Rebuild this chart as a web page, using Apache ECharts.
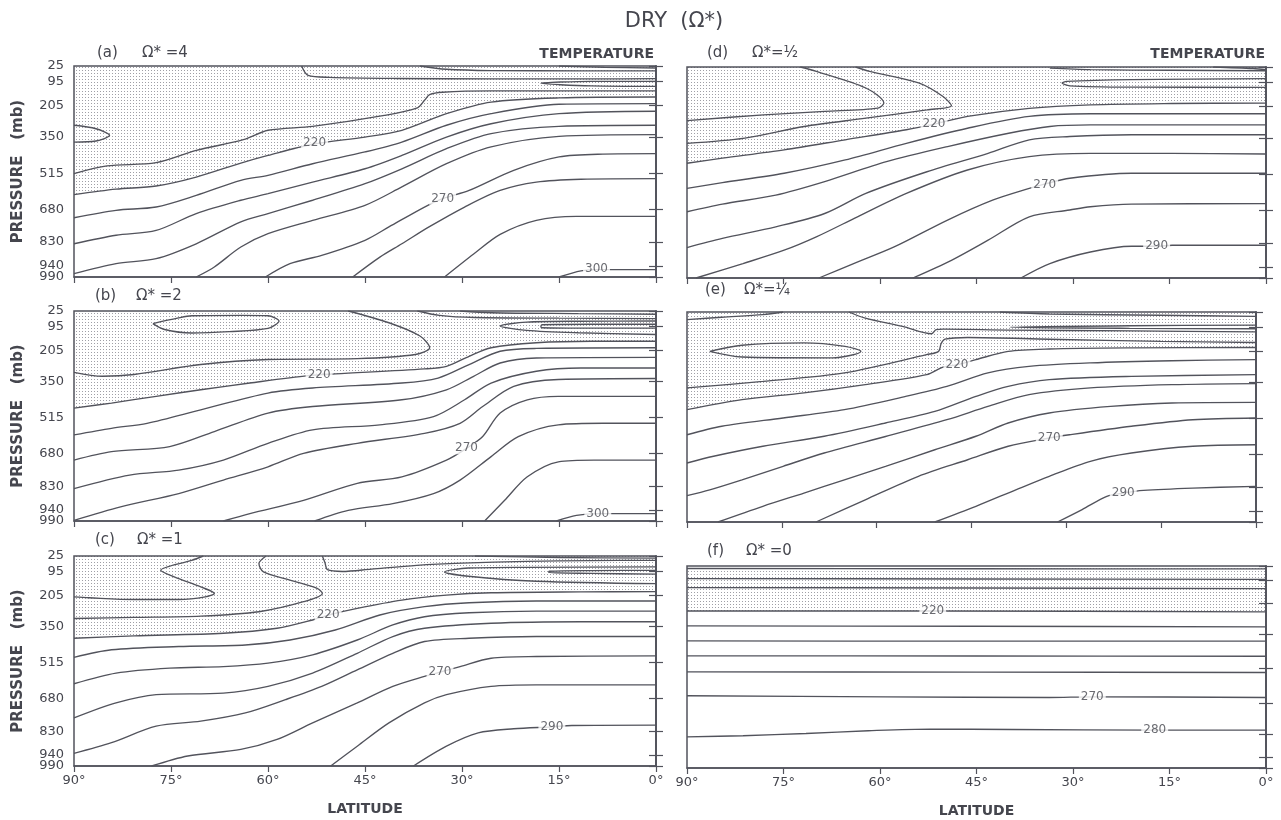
<!DOCTYPE html>
<html><head><meta charset="utf-8">
<script src="https://cdn.jsdelivr.net/npm/echarts@6/dist/echarts.min.js"></script>
<style>html,body{margin:0;padding:0;background:#fff}#chart{width:1281px;height:820px}</style>
</head><body><div id="chart"></div>
<script>
// ---------- data ----------
const pressureTicks = [25, 95, 205, 350, 515, 680, 830, 940, 990];
const panelTags = ['(a)', '(b)', '(c)', '(d)', '(e)', '(f)'];
const omegaTags = ['Ω* =4', 'Ω* =2', 'Ω* =1', 'Ω*=½', 'Ω*=¼', 'Ω* =0'];

// contour lines: [level, [[latitude, pressure], ...]]
const contoursA = [
  [300, [[15,990],[11.6,962],[9,956],[0,956]]],
  [290, [[32.7,990],[28.2,885],[24.1,795],[18.5,731],[12.3,713],[0,713]]],
  [280, [[46.9,990],[42.7,899],[39.3,838],[35.1,761],[29.6,670],[24.1,594],[18.5,556],[11.6,543],[0,540]]],
  [270, [[60.4,990],[56.6,929],[51.7,891],[45,822],[41.3,761],[35.8,670],[33,632],[28.9,594],[22,502],[15,441],[8.2,428],[0,426]]],
  [260, [[71.1,990],[68.3,944],[64.2,853],[60,792],[53.1,731],[45,662],[39.3,578],[32.4,472],[25.5,395],[15,347],[0,339]]],
  [250, [[90,975],[83.5,929],[77.3,906],[71.1,838],[64.2,738],[60,700],[53.1,639],[45,563],[39.3,495],[32.4,403],[25.5,334],[15,301],[0,296]]],
  [240, [[90,838],[83.5,799],[77.3,777],[71.1,700],[64.2,639],[60,609],[53.1,556],[45,495],[39.3,434],[32.4,350],[25.5,289],[15,243],[0,232]]],
  [230, [[90,719],[83.5,685],[77.3,670],[71.1,617],[64.2,548],[60,525],[53.1,472],[45,418],[39.3,373],[32.4,296],[25.5,243],[15,200],[0,197]]],
  [220, [[90,613],[83.5,588],[77.3,574],[71.1,533],[64.2,469],[60,434],[53.1,383],[45,350],[39.3,319],[32.4,243],[25.5,190],[15,171],[0,167]]],
  [210, [[90,517],[84.9,482],[77.3,467],[71.1,411],[63.8,362],[60,319],[53.1,301],[42,251],[36.9,216],[35.8,182],[35,156],[33,145],[25.5,139],[11.6,139],[0,139]]],
  [210, [[90,296],[86.6,312],[84.5,342],[86.6,368],[90,373]]],
  [200, [[54.8,25],[53.8,68],[50.5,77],[40,82],[25,84],[10,84],[0,83]]],
  [200, [[0,95],[10,95],[17.8,104],[10,116],[0,118]]],
  [190, [[36.5,25],[32.4,40],[25.5,46],[11.6,47],[0,47]]],
  [190, [[15,25],[8,31],[0,34]]]
];
const labelsA = [[52.8,378,'220'],[33,632,'270'],[9.2,955,'300']];

const contoursB = [
  [300, [[15.4,990],[12.3,964],[9,956],[0,956]]],
  [290, [[26.5,990],[23.4,895],[19.9,787],[15.1,718],[9.6,710],[0,710]]],
  [280, [[52.8,990],[47.6,941],[40.7,910],[34.4,864],[30.3,802],[25.5,694],[21.3,602],[15.1,548],[8.2,541],[0,541]]],
  [270, [[66.9,990],[62.8,956],[54.5,895],[46.2,817],[39.3,787],[32.4,710],[29.3,656],[26.8,602],[24.1,494],[19.9,433],[15.1,417],[8.2,417],[0,417]]],
  [260, [[90,987],[82.8,925],[73.8,864],[66.9,802],[60,741],[54.5,679],[46.2,633],[35.8,587],[30.3,541],[26.8,464],[22,371],[15.1,340],[0,335]]],
  [250, [[90,841],[81.4,779],[73.8,756],[66.9,710],[60,633],[53.1,571],[42.7,548],[34.4,510],[29.6,433],[25.5,356],[18.5,302],[11.6,287],[0,287]]],
  [240, [[90,710],[84.2,671],[75.2,648],[68.3,579],[60,494],[53.1,464],[39.3,433],[32.4,387],[28.2,325],[24.1,264],[18.5,241],[0,238]]],
  [230, [[90,594],[84.2,564],[78.7,541],[70.4,479],[60,402],[53.1,379],[39.3,356],[33.7,333],[28.9,271],[24.1,210],[18.5,197],[0,194]]],
  [220, [[90,471],[84.2,448],[77.3,417],[70.4,387],[62.8,356],[53.8,322],[49.6,314],[35.8,291],[32.4,279],[28.9,233],[25.5,194],[18.5,171],[10,164],[0,164]]],
  [210, [[90,307],[85.6,325],[80.7,317],[70.4,271],[60,248],[46.2,244],[37.2,225],[35,194],[36.5,140],[41.3,79],[47.6,25]]],
  [200, [[77.8,83],[74,58],[71.8,47],[64,45],[60,47],[58.3,71],[60,105],[66,120],[71.8,126],[76,110],[77.8,83]]],
  [200, [[36.9,25],[33.5,45],[28,55],[15,58],[0,60]]],
  [200, [[0,71],[12,72],[20,76],[24.1,94],[20,114],[12,125],[0,133]]],
  [190, [[0,86],[10,86],[17.6,88],[17.8,96],[17.6,102],[10,104],[0,104]]],
  [190, [[30.3,25],[25.5,33],[12,37],[0,40]]]
];
const labelsB = [[52.1,317,'220'],[29.3,656,'270'],[9,956,'300']];

const contoursC = [
  [290, [[37.5,990],[32.4,899],[27.5,838],[22,819],[16.1,810],[13,804],[0,802]]],
  [280, [[50.3,990],[46.2,899],[41.3,792],[35.8,700],[32.4,662],[25.5,624],[18.5,617],[0,617]]],
  [270, [[78,990],[72.4,944],[64.2,914],[58.6,868],[53.1,792],[46.2,700],[40.7,624],[35.8,578],[33.4,559],[30.3,533],[25.5,495],[18.5,487],[0,484]]],
  [260, [[90,932],[84.2,883],[77.3,807],[70.4,784],[63.5,746],[57.3,685],[51.7,624],[46.2,548],[40.7,472],[35.8,418],[28.9,403],[18.5,395],[0,395]]],
  [250, [[90,769],[83.5,700],[77.3,662],[66.9,655],[60,624],[53.1,563],[46.2,472],[40.7,395],[35.8,357],[25.5,334],[11.6,327],[0,327]]],
  [240, [[90,612],[83.5,563],[75.2,540],[66.9,533],[60,517],[53.1,479],[46.2,411],[40.7,342],[35.8,304],[28.9,286],[18.5,278],[0,278]]],
  [230, [[90,491],[84.2,456],[73.8,441],[63.5,434],[56.6,411],[49.6,365],[42.7,296],[35.8,258],[28.9,240],[18.5,232],[0,232]]],
  [220, [[90,403],[80.7,392],[66.9,380],[58.6,357],[53.1,319],[50.6,296],[46.2,266],[39.3,228],[32.4,205],[25.5,194],[11.6,190],[0,189]]],
  [210, [[90,312],[80.7,307],[70.4,301],[61.4,281],[54.5,235],[51.6,197],[52.4,174],[56.6,136],[60.7,98],[61.4,60],[60.3,25]]],
  [210, [[70,25],[71.8,45],[76.6,91],[74.5,121],[70.4,167],[68.3,197],[69.7,213],[73.8,225],[80.7,225],[87.7,217],[90,213]]],
  [200, [[51.6,25],[51.2,55],[50.8,88],[48.5,96],[44,85],[37,68],[30,58],[20,50],[10,46],[0,45]]],
  [200, [[0,75],[20,77],[29,80],[32.7,98],[29,118],[18.5,141],[0,152]]],
  [190, [[0,91],[10,92],[16.5,95],[16.6,101],[10,105],[0,108]]],
  [190, [[28,25],[15,32],[0,35]]]
];
const labelsC = [[50.7,296,'220'],[33.4,559,'270'],[16.1,810,'290']];

const contoursD = [
  [290, [[38.1,990],[33.6,924],[27.3,871],[20.9,845],[17,845],[14.6,840],[0,840]]],
  [280, [[54.9,990],[48.9,909],[43.2,817],[36.8,710],[30.5,679],[27.3,664],[20.9,652],[0,650]]],
  [270, [[69.5,990],[64.1,924],[57.8,848],[49.5,725],[42.5,634],[36.8,580],[34.6,562],[30.5,534],[20.9,511],[0,511]]],
  [260, [[88.6,990],[81.3,924],[74.9,863],[69.9,802],[63.5,710],[55.9,603],[46.4,496],[36.8,435],[27.3,420],[14.6,420],[0,423]]],
  [250, [[90,851],[84.5,809],[76.2,756],[68.6,695],[62.2,603],[52.7,504],[43.2,420],[36.8,358],[30.5,343],[20.9,335],[0,335]]],
  [240, [[90,687],[84.5,652],[76.2,611],[68.6,549],[59,458],[49.5,389],[40,328],[33.6,297],[27.3,290],[0,290]]],
  [230, [[90,580],[84.5,554],[74.9,511],[65.4,450],[55.9,374],[46.4,305],[36.8,251],[27.3,239],[0,239]]],
  [220, [[90,465],[84.5,442],[74.9,404],[65.4,358],[55.9,312],[51.4,285],[46.4,251],[36.8,214],[27.3,198],[14.6,192],[0,190]]],
  [210, [[90,270],[78.1,244],[68.6,228],[60.3,213],[59.4,190],[62.2,121],[69.9,45],[72.4,25]]],
  [210, [[90,374],[81,350],[71.8,297],[62.2,259],[52.7,221],[48.9,202],[50.2,160],[54,98],[61.6,45],[63.8,25]]],
  [200, [[0,78],[20.9,83],[31,91],[31.7,98],[30.5,111],[20.9,117],[0,118]]],
  [190, [[33.6,30],[27.3,37],[14.6,40],[0,42]]],
  [190, [[8.2,25],[2,32],[0,37]]]
];
const labelsD = [[51.6,285,'220'],[34.4,562,'270'],[17,845,'290']];

const contoursE = [
  [290, [[31.4,990],[27.5,933],[23.6,872],[21,857],[17.8,845],[10,834],[0,826]]],
  [280, [[50.8,990],[44.3,918],[37.9,841],[32.7,780],[26.2,711],[19.7,673],[10,642],[0,635]]],
  [270, [[69.6,990],[61.8,888],[53.4,780],[45.6,704],[39.2,642],[32.7,604],[29.5,589],[19.7,550],[10,520],[0,512]]],
  [260, [[85.1,990],[78,918],[71.5,857],[65.1,796],[58.6,734],[50.8,658],[44.3,596],[39.2,535],[32.7,489],[23,459],[13.3,443],[0,440]]],
  [250, [[90,869],[86.4,842],[81.3,796],[74.8,734],[68.3,673],[58.6,597],[48.9,520],[42.4,459],[35.9,405],[26.2,374],[13.3,359],[0,354]]],
  [240, [[90,719],[85.8,688],[78,642],[68.3,596],[58.6,535],[50.8,482],[44.3,413],[39.2,367],[32.7,336],[19.7,321],[0,313]]],
  [230, [[90,589],[84.5,550],[74.8,512],[65.1,474],[55.4,413],[48.9,367],[42.4,305],[35.9,275],[26.2,259],[13.3,249],[0,244]]],
  [220, [[90,474],[81.3,428],[71.5,397],[61.8,359],[52.1,313],[49.5,278],[47.2,267],[44.3,244],[39.2,206],[32.7,195],[19.7,190],[0,188]]],
  [210, [[90,374],[78,344],[65.1,305],[52.1,221],[50.2,206],[49.8,170],[49.2,150],[45.6,142],[32.7,150],[15,160],[0,165]]],
  [200, [[86.4,206],[81.3,178],[71.5,167],[65,183],[62.5,206],[67,236],[81.3,232],[86.4,206]]],
  [200, [[90,60],[84.5,49],[78,37],[74.8,25]]],
  [200, [[64.4,25],[61.8,53],[55.9,91],[51.3,125],[50.6,106],[49.5,104],[39.2,108],[19.7,112],[0,116]]],
  [190, [[0,85],[20,88],[38.9,95],[20,100],[0,102]]],
  [190, [[40.5,25],[32.7,34],[15,40],[0,45]]]
];
const labelsE = [[47.3,267,'220'],[32.7,604,'270'],[21,857,'290']];

const contoursF = [
  [280, [[90,841],[81.3,836],[71.5,825],[61.8,812],[52.2,804],[39.5,806],[17.3,809],[0,809]]],
  [270, [[90,645],[59.1,650],[33.7,653],[27,650],[0,653]]],
  [260, [[90,531],[45,532],[0,534]]],
  [250, [[90,454],[45,455],[0,456]]],
  [240, [[90,383],[45,384],[0,384]]],
  [230, [[90,311],[45,313],[0,316]]],
  [220, [[90,240],[51.8,240],[0,244]]],
  [210, [[90,128],[45,130],[0,133]]],
  [200, [[90,85],[45,87],[0,89]]],
  [190, [[90,37],[45,38],[0,39]]]
];
const labelsF = [[51.8,240,'220'],[27,650,'270'],[17.3,809,'280']];

// ---------- layout & styles ----------
const FONT = '"DejaVu Sans", "Noto Sans", sans-serif';
const INK = '#52535c';
const TXT = '#45464e';
const panels = [
  {c: contoursA, l: labelsA, g: {left: 74, top: 66, width: 582, height: 211}, xl: false, yl: true},
  {c: contoursB, l: labelsB, g: {left: 74, top: 311, width: 582, height: 210}, xl: false, yl: true},
  {c: contoursC, l: labelsC, g: {left: 74, top: 556, width: 582, height: 210}, xl: true, yl: true},
  {c: contoursD, l: labelsD, g: {left: 687, top: 67, width: 579, height: 211}, xl: false, yl: false},
  {c: contoursE, l: labelsE, g: {left: 687, top: 312, width: 569, height: 210}, xl: false, yl: false},
  {c: contoursF, l: labelsF, g: {left: 687, top: 566, width: 579, height: 202}, xl: true, yl: false}
];
// the 940 label sits 14px above 990, so it is drawn by a second label-only axis
const mainLabelTicks = pressureTicks.filter(v => v !== 940);
const extraLabelTicks = pressureTicks.filter(v => v === 940);

function dotPattern() {
  const cv = document.createElement('canvas');
  cv.width = 3; cv.height = 3;
  const g = cv.getContext('2d');
  g.fillStyle = 'rgba(80,80,92,0.55)';
  g.fillRect(1, 1, 1, 1);
  return cv;
}
const dots = dotPattern();

const grids = [], xAxes = [], yAxes = [], series = [], graphics = [];
const axisLine = {show: true, lineStyle: {color: INK, width: 1.5}};
const yLabelStyle = {margin: 10, color: TXT, fontSize: 13, fontFamily: FONT,
                     showMinLabel: true, showMaxLabel: true, hideOverlap: false};
panels.forEach((p, i) => {
  grids.push(Object.assign({show: true, borderColor: INK, borderWidth: 1.5, backgroundColor: 'transparent'}, p.g));
  xAxes.push({
    gridIndex: i, type: 'value', min: 0, max: 90, interval: 15, inverse: true,
    axisLine: axisLine, axisTick: {show: true, length: 6, lineStyle: {color: INK, width: 1.2}},
    axisLabel: {show: p.xl, formatter: '{value}°', margin: 8, color: TXT, fontSize: 13, fontFamily: FONT,
                showMinLabel: true, showMaxLabel: true, hideOverlap: false},
    splitLine: {show: false},
    name: p.xl ? 'LATITUDE' : '', nameLocation: 'middle', nameGap: 36,
    nameTextStyle: {color: TXT, fontSize: 14, fontWeight: 'bold', fontFamily: FONT}
  });
  const base = {gridIndex: i, type: 'value', min: 25, max: 990, inverse: true, splitLine: {show: false}};
  yAxes.push(Object.assign({}, base, {
    position: 'left', axisLine: axisLine,
    axisTick: {show: true, length: 7, customValues: pressureTicks, lineStyle: {color: INK, width: 1.2}},
    axisLabel: Object.assign({show: p.yl, customValues: mainLabelTicks}, yLabelStyle),
    name: p.yl ? 'PRESSURE   (mb)' : '', nameLocation: 'middle', nameRotate: 90, nameGap: 48,
    nameTextStyle: {color: TXT, fontSize: 15, fontWeight: 'bold', fontFamily: FONT}
  }));
  yAxes.push(Object.assign({}, base, {
    position: 'right', axisLine: axisLine,
    axisTick: {show: true, length: 7, customValues: pressureTicks, lineStyle: {color: INK, width: 1.2}},
    axisLabel: {show: false}
  }));
  yAxes.push(Object.assign({}, base, {
    position: 'left', axisLine: {show: false}, axisTick: {show: false},
    axisLabel: Object.assign({show: p.yl, customValues: extraLabelTicks}, yLabelStyle)
  }));
  p.c.forEach(([lv, pts]) => {
    const s = {
      type: 'line', xAxisIndex: i, yAxisIndex: 3 * i, data: pts, symbol: 'none',
      smooth: 0.3, silent: true, z: 3, clip: true,
      lineStyle: {color: INK, width: 1.35}
    };
    if (lv === 220) {
      s.areaStyle = {color: {image: dots, repeat: 'repeat'}, opacity: 1, origin: 'start'};
    }
    series.push(s);
  });
  series.push({
    type: 'scatter', xAxisIndex: i, yAxisIndex: 3 * i, symbolSize: 1, silent: true, z: 10,
    itemStyle: {color: 'rgba(0,0,0,0)'},
    data: p.l.map(d => ({value: [d[0], d[1]], label: {formatter: d[2]}})),
    label: {show: true, position: 'inside', color: TXT, fontSize: 12, fontFamily: FONT,
            backgroundColor: '#fff', padding: [0, 2]}
  });
});

function txt(x, y, s, size, opts) {
  graphics.push({type: 'text', x: x, y: y, silent: true, style: Object.assign({
    text: s, fill: TXT, font: size + 'px ' + FONT,
    align: 'left', textAlign: 'left', verticalAlign: 'middle', textVerticalAlign: 'middle'
  }, opts || {})});
}
txt(674, 22, 'DRY  (Ω*)', 21, {align: 'center', textAlign: 'center'});
const tagPos = [[97, 53, 142], [95, 296, 136], [95, 540, 137], [707, 53, 752], [705, 290, 744], [707, 551, 746]];
tagPos.forEach((t, i) => {
  txt(t[0], t[1], panelTags[i], 15);
  txt(t[2], t[1], omegaTags[i], 15);
});
txt(654, 54, 'TEMPERATURE', 14, {align: 'right', textAlign: 'right', font: 'bold 14px ' + FONT});
txt(1265, 54, 'TEMPERATURE', 14, {align: 'right', textAlign: 'right', font: 'bold 14px ' + FONT});

const chart = echarts.init(document.getElementById('chart'), null, {renderer: 'canvas'});
chart.setOption({
  animation: false,
  backgroundColor: '#fff',
  grid: grids, xAxis: xAxes, yAxis: yAxes, series: series, graphic: graphics
});
</script>
</body></html>
